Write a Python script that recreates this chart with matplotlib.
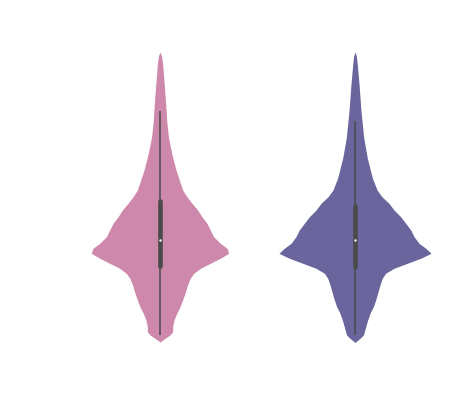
import matplotlib
matplotlib.use("Agg")
import matplotlib.pyplot as plt

# Groups
groups = ["A", "B"]
colors = ["#CD88AB", "#6A659D"]

# Density outline: value levels and half-widths
levels_a = [29.1, 28.7, 27.8, 25.8, 23.13, 22.3, 20.63, 18.97, 17.3, 16.3, 15.3, 14.63,
            13.97, 13.3, 12.63, 11.97, 11.3, 10.63, 9.97, 9.47, 8.97, 8.47, 7.97, 7.47,
            6.97, 6.47, 5.8, 4.97, 4.3, 3.63, 2.97, 2.3, 1.63, 1.13, 0.8, 0.47, 0.1]
width_a = [0.0, 0.008, 0.014, 0.022, 0.032, 0.034, 0.043, 0.060, 0.082, 0.099, 0.116, 0.138,
           0.164, 0.193, 0.215, 0.241, 0.258, 0.275, 0.309, 0.344, 0.352, 0.309, 0.258, 0.207,
           0.173, 0.155, 0.141, 0.128, 0.116, 0.103, 0.086, 0.072, 0.065, 0.065, 0.051, 0.026, 0.0]

levels_b = [29.1, 28.7, 27.8, 25.8, 23.13, 20.5, 18.5, 16.5, 15.3, 14.63, 13.97, 13.3,
            12.63, 11.97, 11.3, 10.63, 9.97, 9.47, 8.97, 8.47, 7.97, 7.47, 6.97, 6.47,
            5.8, 4.97, 4.3, 3.63, 2.97, 2.3, 1.63, 1.13, 0.8, 0.47, 0.05]
width_b = [0.0, 0.007, 0.012, 0.021, 0.031, 0.045, 0.063, 0.089, 0.113, 0.138, 0.174, 0.200,
           0.234, 0.260, 0.286, 0.303, 0.328, 0.363, 0.390, 0.337, 0.268, 0.200, 0.157, 0.140,
           0.128, 0.116, 0.106, 0.094, 0.077, 0.065, 0.055, 0.048, 0.043, 0.026, 0.0]

# Box statistics
whisker_low = [0.8, 0.8]
q1 = [7.7, 7.6]
median = [10.3, 10.3]
q3 = [14.2, 13.7]
whisker_high = [23.2, 22.2]

fig = plt.figure(figsize=(4.6, 4.18), dpi=100)
ax = fig.add_axes([0, 0, 1, 1])

outlines = [(levels_a, width_a), (levels_b, width_b)]
for i, (lv, wd) in enumerate(outlines):
    left = [i - w for w in wd]
    right = [i + w for w in wd]
    ax.fill_betweenx(lv, left, right, color=colors[i], linewidth=0, zorder=1)
    ax.plot([i, i], [whisker_low[i], whisker_high[i]], color="#4a4a4a",
            linewidth=1.1, solid_capstyle="butt", zorder=2)
    ax.plot([i, i], [q1[i], q3[i]], color="#4a4a4a", linewidth=3.3,
            solid_capstyle="round", zorder=3)
    ax.scatter([i], [median[i]], s=3, color="white", zorder=4, linewidths=0)

ax.set_xlim(-160 / 195, 300 / 195)
ax.set_ylim(-7.5, 34.3)
ax.axis("off")

fig.savefig("out.png", dpi=100)
